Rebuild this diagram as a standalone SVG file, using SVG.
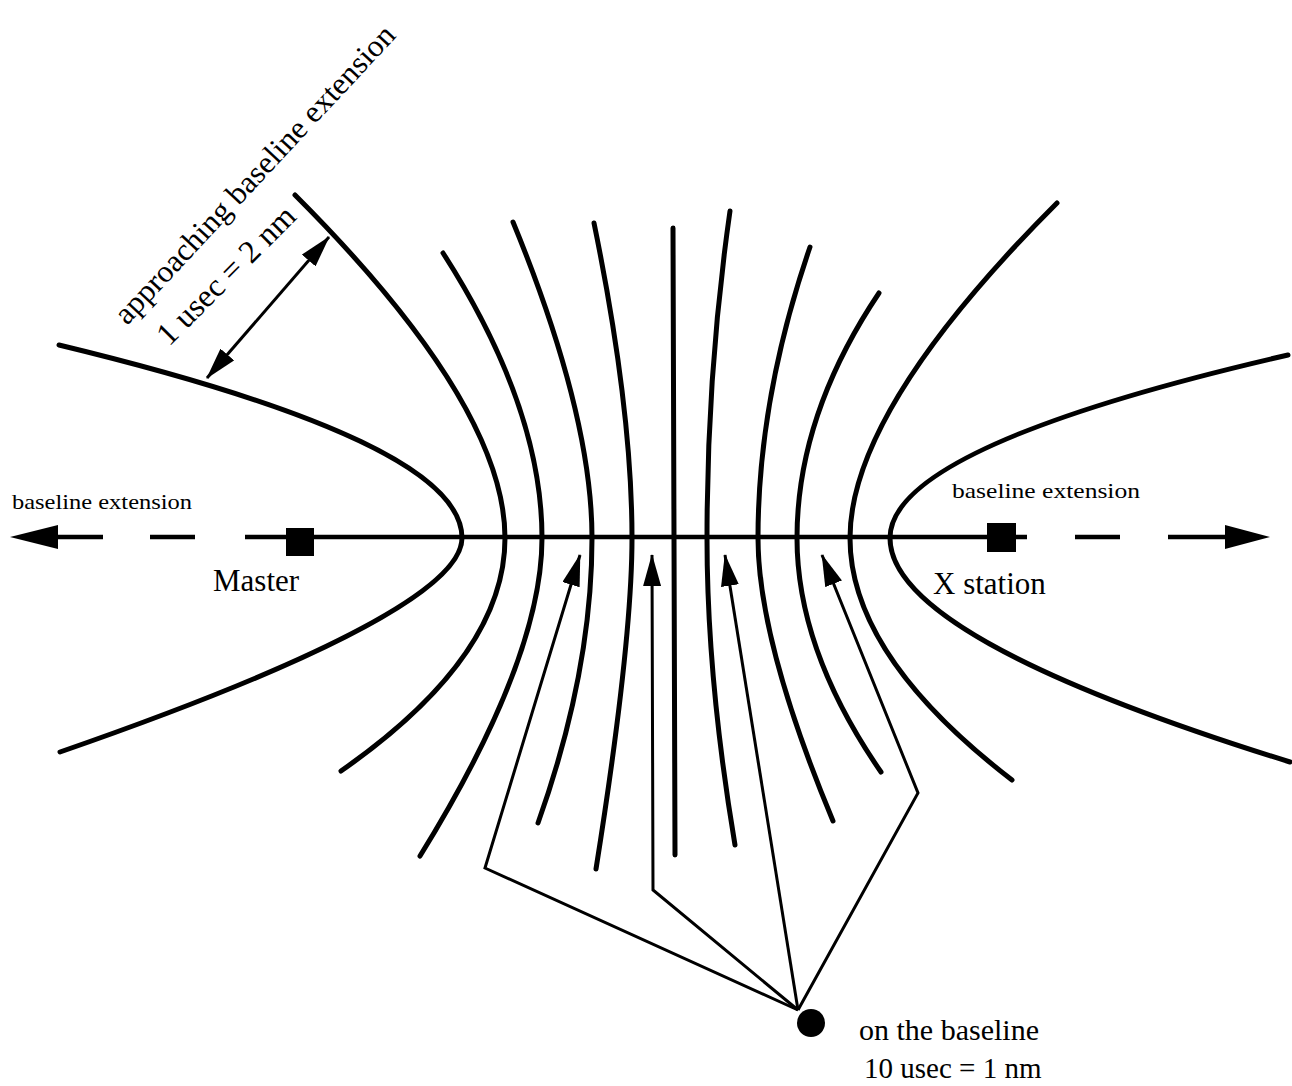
<svg xmlns="http://www.w3.org/2000/svg" width="1292" height="1086" viewBox="0 0 1292 1086">
<defs>
<style>
.lop{fill:none;stroke:#000;stroke-width:5;stroke-linecap:round}
.base{fill:none;stroke:#000;stroke-width:4.5}
.ptr{fill:none;stroke:#000;stroke-width:3;stroke-linejoin:miter}
.t{font-family:"Liberation Serif","Times New Roman",serif;fill:#000}
</style>
<marker id="ah" markerUnits="userSpaceOnUse" viewBox="0 0 32 18" refX="31" refY="9" markerWidth="32" markerHeight="18" orient="auto-start-reverse">
<path d="M0,0 L32,9 L0,18 Z" fill="#000"/>
</marker>
</defs>
<rect width="1292" height="1086" fill="#fff"/>
<g id="lines-of-position">
<path class="lop" d="M59,345 C328,410 462,474 462,538 C462,587 328,659 60,752"/>
<path class="lop" d="M295,195 C435,335 505,449 505,538 C505,617 450,695 341,771"/>
<path class="lop" d="M443,253 C509,356 542,451 542,538 C542,619 501,725 420,856"/>
<path class="lop" d="M513,222 C566,351 592,456 592,538 C592,627 574,722 538,823"/>
<path class="lop" d="M594,223 C619,345 632,450 632,538 C632,607 620,718 596,869"/>
<path class="lop" d="M673,228 L674,538 L675,855"/>
<path class="lop" d="M730,211 C715,316 707,425 707,538 C707,630 716,732 735,845"/>
<path class="lop" d="M810,247 C775,349 758,446 758,538 C758,607 783,701 833,821"/>
<path class="lop" d="M879,293 C824,375 797,457 797,538 C797,613 825,691 881,772"/>
<path class="lop" d="M1057,203 C919,341 850,453 850,538 C850,616 904,697 1012,780"/>
<path class="lop" d="M1288,355 C1023,416 890,477 890,538 C890,605 1023,679 1290,762"/>
</g>
<g id="baseline">
<line class="base" x1="245" y1="537" x2="1027" y2="537"/>
<line class="base" x1="56" y1="537" x2="103" y2="537"/>
<line class="base" x1="150" y1="537" x2="195" y2="537"/>
<line class="base" x1="1075" y1="537" x2="1120" y2="537"/>
<line class="base" x1="1168" y1="537" x2="1227" y2="537"/>
<path d="M10,537 L58,525 L58,549 Z" fill="#000"/>
<path d="M1270,537 L1225,525 L1225,549 Z" fill="#000"/>
</g>
<g id="master">
<rect x="286" y="528" width="28" height="28" fill="#000"/>
<text class="t" x="213" y="591" font-size="31">Master</text>
</g>
<g id="xstation">
<rect x="987" y="523" width="29" height="29" fill="#000"/>
<text class="t" x="933" y="594" font-size="31">X station</text>
</g>
<g id="labels">
<text class="t" x="12" y="509" font-size="21" textLength="180" lengthAdjust="spacingAndGlyphs">baseline extension</text>
<text class="t" x="952" y="498" font-size="21" textLength="188" lengthAdjust="spacingAndGlyphs">baseline extension</text>
<text class="t" font-size="31" transform="translate(127,326) rotate(-47)" textLength="396" lengthAdjust="spacingAndGlyphs">approaching baseline extension</text>
<text class="t" font-size="32" transform="translate(169,347) rotate(-45)" textLength="182" lengthAdjust="spacingAndGlyphs">1 usec = 2 nm</text>
</g>
<g id="on-baseline">
<circle cx="811" cy="1023" r="14" fill="#000"/>
<text class="t" x="859" y="1040" font-size="30">on the baseline</text>
<text class="t" x="864" y="1078" font-size="29">10 usec = 1 nm</text>
</g>
<g id="connectors">
<line class="ptr" x1="207" y1="378" x2="329" y2="237" marker-start="url(#ah)" marker-end="url(#ah)"/>
<polyline class="ptr" points="798,1010 485,868 580,555" marker-end="url(#ah)"/>
<polyline class="ptr" points="798,1010 653,890 652,555" marker-end="url(#ah)"/>
<polyline class="ptr" points="798,1010 725,555" marker-end="url(#ah)"/>
<polyline class="ptr" points="798,1010 918,793 822,555" marker-end="url(#ah)"/>
</g>
</svg>
